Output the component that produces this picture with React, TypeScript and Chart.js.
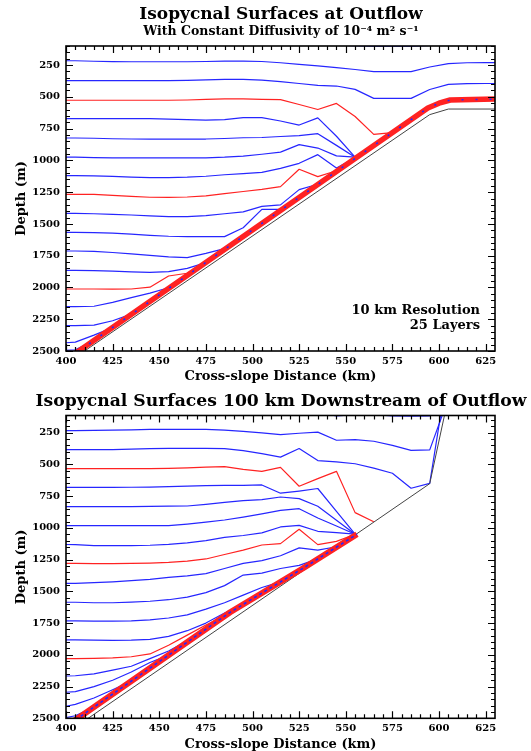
import React, { useEffect, useRef } from "react";
import { Chart, registerables } from "chart.js";

Chart.register(...registerables);

// ---------- shared axes ----------
const XS = [395, 405, 415, 425, 435, 445, 455, 465, 475, 485, 495, 505, 515, 525, 535, 545, 555, 565, 575, 585, 595, 605, 615, 625, 635];
const X_TICKS = [400, 425, 450, 475, 500, 525, 550, 575, 600, 625];
const Y_TICKS = [250, 500, 750, 1000, 1250, 1500, 1750, 2000, 2250, 2500];

// ---------- top panel: isopycnal depths (m) at XS ----------
const T00 = [70, 70, 70, 72, 72, 72, 72, 72, 70, 68, 68, 70, 75, 82, 88, 94, 97, 102, 100, 102, 96, 80, 74, 72, 72];
const T01 = [216, 216, 220, 223, 224, 224, 224, 224, 222, 219, 219, 222, 232, 245, 257, 270, 285, 302, 302, 302, 265, 238, 232, 231, 231];
const T02 = [373, 373, 373, 373, 373, 372, 372, 370, 366, 362, 362, 368, 380, 395, 410, 415, 441, 512, 512, 512, 442, 402, 396, 395, 395];
const T03 = [527, 527, 527, 527, 527, 527, 527, 525, 520, 516, 516, 520, 522, 560, 600, 552, 655, 795, 782];
const T04 = [672, 672, 672, 672, 672, 672, 675, 680, 683, 680, 664, 664, 690, 722, 666, 810, 975];
const T05 = [824, 824, 826, 830, 832, 832, 832, 832, 832, 828, 822, 820, 812, 806, 790, 882, 975];
const T06 = [973, 975, 978, 981, 981, 981, 981, 981, 980, 975, 966, 952, 935, 876, 903, 965, 975];
const T07 = [1120, 1120, 1122, 1126, 1132, 1135, 1135, 1132, 1125, 1113, 1104, 1095, 1063, 1023, 955, 1060, 980];
const T08 = [1267, 1267, 1268, 1275, 1284, 1290, 1291, 1288, 1280, 1262, 1245, 1228, 1207, 1070, 1128, 1082];
const T09 = [1417, 1417, 1420, 1425, 1430, 1437, 1443, 1442, 1435, 1420, 1405, 1362, 1350, 1230, 1188];
const T10 = [1566, 1566, 1568, 1572, 1580, 1590, 1597, 1600, 1600, 1600, 1530, 1385, 1385];
const T11 = [1713, 1713, 1716, 1725, 1735, 1748, 1760, 1765, 1732, 1695];
const T12 = [1865, 1865, 1868, 1872, 1878, 1881, 1876, 1850, 1805];
const T13 = [2012, 2012, 2012, 2013, 2012, 1998, 1910, 1888, 1805];
const T14 = [2151, 2151, 2148, 2118, 2080, 2045, 2002];
const T15 = [2301, 2301, 2296, 2262, 2210];
const T16 = [2440, 2430, 2375, 2315];
const T17 = [2500, 2490, 2418];
const TOP_BLUE = [T00, T01, T02, T04, T05, T06, T07, T09, T10, T11, T12, T14, T15, T16, T17];
const TOP_RED = [T03, T08, T13];
const TOP_BUNDLE: [number, number][] = [[400, 2570], [555, 985], [594, 588], [600, 550], [606, 525], [630, 518]];
const TOP_FLOOR: [number, number][] = [[400, 2600], [595, 640], [605, 596], [630, 596]];

// ---------- bottom panel: isopycnal depths (m) at XS ----------
const B00 = [60, 60, 60, 62, 62, 62, 62, 62, 62, 64, 66, 70, 75, 80, 92, 118, 108, 108, 118, 120, 118, -500];
const B01 = [234, 234, 232, 230, 228, 225, 224, 224, 225, 230, 240, 252, 266, 255, 246, 310, 305, 318, 350, 390, 386, -20];
const B02 = [384, 384, 384, 383, 380, 376, 374, 374, 374, 376, 392, 415, 443, 375, 470, 480, 495, 530, 570, 688, 650, -270];
const B03 = [534, 534, 534, 534, 534, 533, 531, 528, 522, 518, 540, 555, 524, 672, 612, 555, 880, 952];
const B04 = [681, 681, 681, 681, 680, 679, 676, 672, 668, 665, 665, 662, 727, 710, 690, 870, 1050];
const B05 = [833, 833, 833, 833, 832, 830, 829, 828, 815, 800, 785, 778, 757, 770, 830, 940, 1050];
const B06 = [983, 983, 983, 983, 983, 983, 982, 970, 955, 938, 915, 890, 862, 849, 922, 985, 1050];
const B07 = [1130, 1132, 1140, 1140, 1140, 1137, 1130, 1118, 1100, 1075, 1060, 1040, 993, 980, 1027, 1038, 1050];
const B08 = [1279, 1280, 1282, 1282, 1280, 1277, 1272, 1262, 1245, 1210, 1175, 1135, 1124, 1011, 1132, 1106, 1050];
const B09 = [1437, 1437, 1432, 1425, 1416, 1405, 1390, 1378, 1360, 1320, 1280, 1258, 1220, 1158, 1175, 1149];
const B10 = [1586, 1586, 1590, 1590, 1585, 1578, 1566, 1545, 1510, 1455, 1372, 1356, 1320, 1296, 1244];
const B11 = [1733, 1733, 1735, 1735, 1732, 1725, 1710, 1685, 1640, 1590, 1530, 1470, 1425];
const B12 = [1883, 1883, 1885, 1886, 1884, 1878, 1855, 1810, 1750, 1670, 1603];
const B13 = [2030, 2030, 2028, 2024, 2015, 1993, 1925, 1845, 1765, 1692];
const B14 = [2169, 2165, 2150, 2120, 2090, 2030, 1970, 1890, 1798];
const B15 = [2300, 2290, 2250, 2200, 2135, 2060, 2002];
const B16 = [2420, 2390, 2340, 2275, 2207];
const B17 = [2510, 2480, 2412];
const BOT_BLUE = [B00, B01, B02, B04, B05, B06, B07, B09, B10, B11, B12, B14, B15, B16, B17];
const BOT_RED = [B03, B08, B13];
const BOT_BUNDLE: [number, number][] = [[400, 2565], [488, 1665], [528, 1310], [556, 1050]];
const BOT_FLOOR: [number, number][] = [[400, 2620], [595, 652], [605, -28]];

// ---------- styling ----------
const FONT = "'DejaVu Serif', serif";
const BLUE = "#2626ff";
const RED = "#ff2222";
const W = 531;
const CANVAS_H = 390;
const AXIS_FONT_SIZE = 13;

type Spec = {
  top: number;
  title: string;
  titleSize: number;
  titlePad: { top: number; bottom: number };
  subtitle?: string;
  subtitleSize?: number;
  subtitlePad?: { top: number; bottom: number };
  yMin: number;
  xAxisHeight: number;
  xTitlePadBottom: number;
  blue: number[][];
  red: number[][];
  bundle: [number, number][];
  floor: [number, number][];
  bundleStripe: number[];
  bundleWidth: number;
  note?: string[];
};

const TOP_SPEC: Spec = {
  top: 0,
  title: "Isopycnal Surfaces at Outflow",
  titleSize: 17,
  titlePad: { top: 4.3, bottom: 0 },
  subtitle: "With Constant Diffusivity of 10\u207B\u2074 m\u00B2 s\u207B\u00B9",
  subtitleSize: 12.5,
  subtitlePad: { top: 0, bottom: 6.3 },
  yMin: 100,
  xAxisHeight: 39,
  xTitlePadBottom: 5.2,
  blue: TOP_BLUE,
  red: TOP_RED,
  bundle: TOP_BUNDLE,
  floor: TOP_FLOOR,
  bundleStripe: [2, 12],
  bundleWidth: 5.5,
  note: ["10 km Resolution", "25 Layers"],
};

const BOT_SPEC: Spec = {
  top: 380,
  title: "Isopycnal Surfaces 100 km Downstream of Outflow",
  titleSize: 17.2,
  titlePad: { top: 11.68, bottom: 3.18 },
  yMin: 115,
  xAxisHeight: 51.7,
  xTitlePadBottom: 17.2,
  blue: BOT_BLUE,
  red: BOT_RED,
  bundle: BOT_BUNDLE,
  floor: BOT_FLOOR,
  bundleStripe: [3, 3],
  bundleWidth: 6,
};

const gridSeries = (vals: number[]) => vals.map((d, i) => ({ x: XS[i], y: d }));
const pairSeries = (pts: [number, number][]) => pts.map(([x, y]) => ({ x, y }));

const lineDs = (data: any[], color: string, width: number, order: number, dash: number[] = []) => ({
  data,
  borderColor: color,
  borderWidth: width,
  borderDash: dash,
  pointRadius: 0,
  tension: 0,
  fill: false,
  order,
  clip: 0,
  borderJoinStyle: "round",
  borderCapStyle: "butt",
});

const framePlugin = {
  id: "frameTicks",
  afterDatasetsDraw(chart: any) {
    const { ctx, chartArea: a, scales } = chart;
    const x = scales.x;
    const y = scales.y;
    ctx.save();
    ctx.strokeStyle = "#000";
    ctx.lineWidth = 1.2;
    ctx.beginPath();
    for (let v = Math.ceil(x.min / 5) * 5; v < x.max; v += 5) {
      const px = Math.round(x.getPixelForValue(v)) + 0.5;
      const len = v % 25 === 0 ? 7 : 4;
      ctx.moveTo(px, a.bottom);
      ctx.lineTo(px, a.bottom - len);
      ctx.moveTo(px, a.top);
      ctx.lineTo(px, a.top + len);
    }
    for (let v = Math.ceil(y.min / 50) * 50; v <= y.max; v += 50) {
      const py = Math.round(y.getPixelForValue(v)) + 0.5;
      const len = v % 250 === 0 ? 7 : 4;
      ctx.moveTo(a.left, py);
      ctx.lineTo(a.left + len, py);
      ctx.moveTo(a.right, py);
      ctx.lineTo(a.right - len, py);
    }
    ctx.stroke();
    ctx.lineWidth = 1.6;
    ctx.strokeRect(a.left, a.top, a.right - a.left, a.bottom - a.top);
    ctx.restore();
  },
};

const makeNotePlugin = (lines?: string[]) => ({
  id: "note",
  afterDatasetsDraw(chart: any) {
    if (!lines) return;
    const { ctx, chartArea: a } = chart;
    ctx.save();
    ctx.font = `bold ${AXIS_FONT_SIZE}px ${FONT}`;
    ctx.fillStyle = "#000";
    ctx.textAlign = "right";
    ctx.textBaseline = "middle";
    lines.forEach((t, i) => {
      ctx.fillText(t, a.right - 15, a.bottom - 40 + i * 15);
    });
    ctx.restore();
  },
});

function buildConfig(s: Spec): any {
  const datasets: any[] = [];
  s.blue.forEach((v) => datasets.push(lineDs(gridSeries(v), BLUE, 1.2, 4)));
  s.red.forEach((v) => datasets.push(lineDs(gridSeries(v), RED, 1.2, 3)));
  datasets.push(lineDs(pairSeries(s.floor), "#444", 1, 2));
  datasets.push(lineDs(pairSeries(s.bundle), RED, s.bundleWidth, 1));
  datasets.push(lineDs(pairSeries(s.bundle), BLUE, 1.6, 0, s.bundleStripe));

  const tickFont = { family: FONT, size: 10, weight: "bold" as const };
  const titleFont = { family: FONT, size: AXIS_FONT_SIZE, weight: "bold" as const, lineHeight: 1.2 };
  const half = (AXIS_FONT_SIZE * 1.2) / 2;

  return {
    type: "line",
    data: { datasets },
    options: {
      animation: false,
      responsive: false,
      events: [],
      layout: { padding: { left: 31, right: 0, top: 0, bottom: 0 } },
      plugins: {
        legend: { display: false },
        tooltip: { enabled: false },
        title: {
          display: true,
          text: s.title,
          color: "#000",
          font: { family: FONT, size: s.titleSize, weight: "bold", lineHeight: 1.2 },
          padding: s.titlePad,
        },
        subtitle: s.subtitle
          ? {
              display: true,
              text: s.subtitle,
              color: "#000",
              font: { family: FONT, size: s.subtitleSize, weight: "bold", lineHeight: 1.2 },
              padding: s.subtitlePad,
            }
          : { display: false },
      },
      scales: {
        x: {
          type: "linear",
          min: 400,
          max: 630,
          grid: { display: false, drawTicks: false },
          border: { display: false },
          ticks: {
            color: "#000",
            font: tickFont,
            padding: 4.5,
            autoSkip: false,
            maxRotation: 0,
            callback: (v: number) => String(v),
          },
          title: {
            display: true,
            text: "Cross-slope Distance (km)",
            color: "#000",
            font: titleFont,
            padding: { top: 0, bottom: s.xTitlePadBottom },
          },
          afterBuildTicks: (sc: any) => {
            sc.ticks = X_TICKS.map((v) => ({ value: v }));
          },
          afterFit: (sc: any) => {
            sc.height = s.xAxisHeight;
          },
        },
        y: {
          type: "linear",
          reverse: true,
          min: s.yMin,
          max: 2500,
          grid: { display: false, drawTicks: false },
          border: { display: false },
          ticks: {
            color: "#000",
            font: tickFont,
            padding: 6,
            autoSkip: false,
            callback: (v: number) => String(v),
          },
          title: {
            display: true,
            text: "Depth (m)",
            color: "#000",
            font: titleFont,
            padding: { top: 22 - 31 - half, bottom: 0 },
          },
          afterBuildTicks: (sc: any) => {
            sc.ticks = Y_TICKS.map((v) => ({ value: v }));
          },
          afterFit: (sc: any) => {
            sc.width = 35;
          },
        },
        yRight: {
          type: "linear",
          position: "right",
          display: true,
          grid: { display: false, drawTicks: false },
          border: { display: false },
          ticks: { display: false },
          afterFit: (sc: any) => {
            sc.width = 36;
          },
        },
      },
    },
    plugins: [framePlugin, makeNotePlugin(s.note)],
  };
}

function Panel({ spec }: { spec: Spec }) {
  const ref = useRef<HTMLCanvasElement | null>(null);
  useEffect(() => {
    if (!ref.current) return;
    const chart = new Chart(ref.current, buildConfig(spec));
    return () => chart.destroy();
  }, [spec]);
  return (
    <canvas
      ref={ref}
      width={W}
      height={CANVAS_H}
      style={{ position: "absolute", left: 0, top: spec.top, display: "block" }}
    />
  );
}

export default function App() {
  return (
    <div
      style={{
        position: "absolute",
        left: 0,
        top: 0,
        width: W,
        height: 751,
        overflow: "hidden",
        background: "#fff",
      }}
    >
      <Panel spec={TOP_SPEC} />
      <Panel spec={BOT_SPEC} />
    </div>
  );
}
